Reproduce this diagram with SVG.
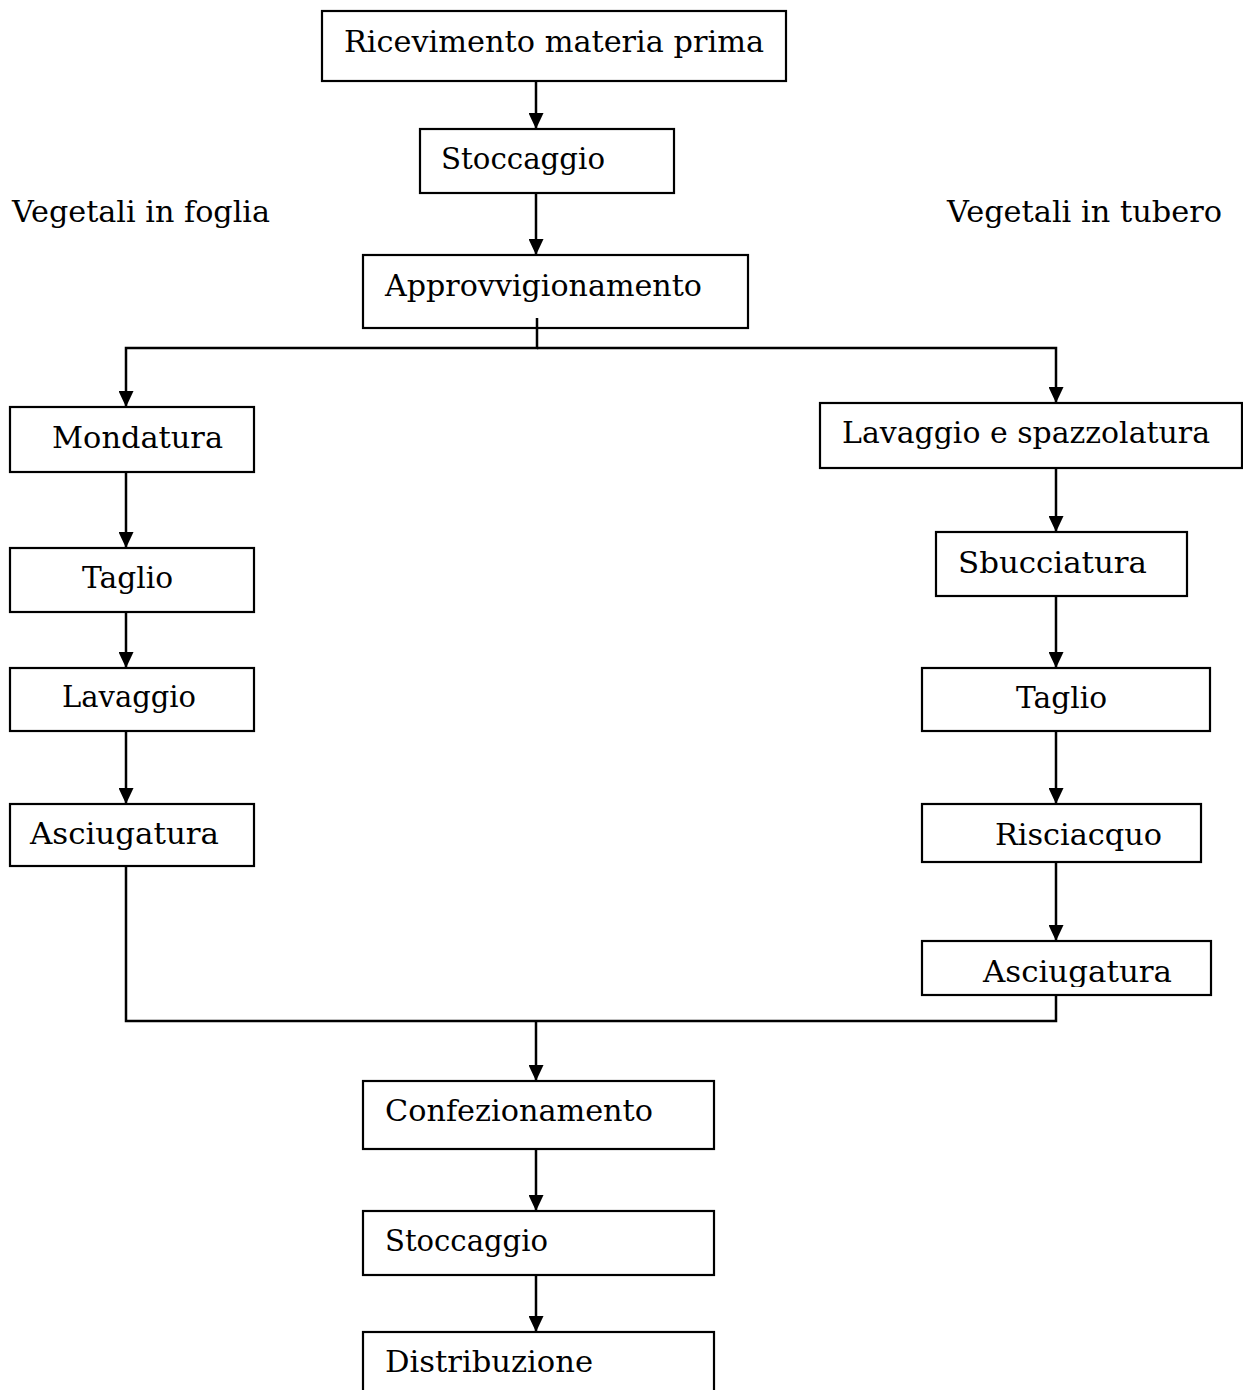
<svg xmlns="http://www.w3.org/2000/svg" width="1243" height="1390" viewBox="0 0 1243 1390">
<style>
.box{fill:#fff;stroke:#000;stroke-width:2.2}
.t{font-family:"DejaVu Serif","Liberation Serif",serif;font-size:30px;fill:#000}
.c{fill:none;stroke:#000;stroke-width:2.5}
</style>
<defs>
<marker id="ah" viewBox="0 0 16 15" refX="16" refY="7.5" markerWidth="16" markerHeight="15" markerUnits="userSpaceOnUse" orient="auto">
<path d="M0,0 L16,7.5 L0,15 z" fill="#000"/>
</marker>
<clipPath id="clipA"><rect x="922" y="941" width="289" height="46"/></clipPath>
</defs>
<rect width="1243" height="1390" fill="#fff"/>
<g id="connectors">
<path class="c" d="M536,81 V129" marker-end="url(#ah)"/>
<path class="c" d="M536,193 V255" marker-end="url(#ah)"/>
<path class="c" d="M537,318 V348 H126 V407" marker-end="url(#ah)"/>
<path class="c" d="M537,348 H1056 V403" marker-end="url(#ah)"/>
<path class="c" d="M126,472 V548" marker-end="url(#ah)"/>
<path class="c" d="M126,612 V668" marker-end="url(#ah)"/>
<path class="c" d="M126,731 V804" marker-end="url(#ah)"/>
<path class="c" d="M126,866 V1021 H1056 V995"/>
<path class="c" d="M536,1021 V1081" marker-end="url(#ah)"/>
<path class="c" d="M1056,468 V532" marker-end="url(#ah)"/>
<path class="c" d="M1056,596 V668" marker-end="url(#ah)"/>
<path class="c" d="M1056,731 V804" marker-end="url(#ah)"/>
<path class="c" d="M1056,862 V941" marker-end="url(#ah)"/>
<path class="c" d="M536,1149 V1211" marker-end="url(#ah)"/>
<path class="c" d="M536,1275 V1332" marker-end="url(#ah)"/>
</g>
<g id="n-ricevimento"><rect class="box" x="322" y="11" width="464" height="70"/><text class="t" x="344" y="52" textLength="420" lengthAdjust="spacingAndGlyphs">Ricevimento materia prima</text></g>
<g id="n-stoccaggio1"><rect class="box" x="420" y="129" width="254" height="64"/><text class="t" x="441" y="169" textLength="164" lengthAdjust="spacingAndGlyphs">Stoccaggio</text></g>
<g id="n-label-foglia"><text class="t" x="12" y="222" textLength="258" lengthAdjust="spacingAndGlyphs">Vegetali in foglia</text></g>
<g id="n-label-tubero"><text class="t" x="947" y="222" textLength="275" lengthAdjust="spacingAndGlyphs">Vegetali in tubero</text></g>
<g id="n-approvvigionamento"><rect class="box" x="363" y="255" width="385" height="73" fill-opacity="0"/><text class="t" x="385" y="296" textLength="317" lengthAdjust="spacingAndGlyphs">Approvvigionamento</text></g>
<g id="n-mondatura"><rect class="box" x="10" y="407" width="244" height="65"/><text class="t" x="52" y="448" textLength="171" lengthAdjust="spacingAndGlyphs">Mondatura</text></g>
<g id="n-taglio1"><rect class="box" x="10" y="548" width="244" height="64"/><text class="t" x="82" y="588" textLength="91" lengthAdjust="spacingAndGlyphs">Taglio</text></g>
<g id="n-lavaggio"><rect class="box" x="10" y="668" width="244" height="63"/><text class="t" x="62" y="707" textLength="134" lengthAdjust="spacingAndGlyphs">Lavaggio</text></g>
<g id="n-asciugatura1"><rect class="box" x="10" y="804" width="244" height="62"/><text class="t" x="30" y="844" textLength="189" lengthAdjust="spacingAndGlyphs">Asciugatura</text></g>
<g id="n-lavaggio-spazzolatura"><rect class="box" x="820" y="403" width="422" height="65"/><text class="t" x="842" y="443" textLength="368" lengthAdjust="spacingAndGlyphs">Lavaggio e spazzolatura</text></g>
<g id="n-sbucciatura"><rect class="box" x="936" y="532" width="251" height="64"/><text class="t" x="958" y="573" textLength="189" lengthAdjust="spacingAndGlyphs">Sbucciatura</text></g>
<g id="n-taglio2"><rect class="box" x="922" y="668" width="288" height="63"/><text class="t" x="1016" y="708" textLength="91" lengthAdjust="spacingAndGlyphs">Taglio</text></g>
<g id="n-risciacquo"><rect class="box" x="922" y="804" width="279" height="58"/><text class="t" x="995" y="845" textLength="167" lengthAdjust="spacingAndGlyphs">Risciacquo</text></g>
<g id="n-asciugatura2"><rect class="box" x="922" y="941" width="289" height="54"/><text class="t" x="983" y="982" textLength="189" lengthAdjust="spacingAndGlyphs" clip-path="url(#clipA)">Asciugatura</text></g>
<g id="n-confezionamento"><rect class="box" x="363" y="1081" width="351" height="68"/><text class="t" x="385" y="1121" textLength="268" lengthAdjust="spacingAndGlyphs">Confezionamento</text></g>
<g id="n-stoccaggio2"><rect class="box" x="363" y="1211" width="351" height="64"/><text class="t" x="385" y="1251" textLength="163" lengthAdjust="spacingAndGlyphs">Stoccaggio</text></g>
<g id="n-distribuzione"><rect class="box" x="363" y="1332" width="351" height="62"/><text class="t" x="385" y="1372" textLength="208" lengthAdjust="spacingAndGlyphs">Distribuzione</text></g>
</svg>
